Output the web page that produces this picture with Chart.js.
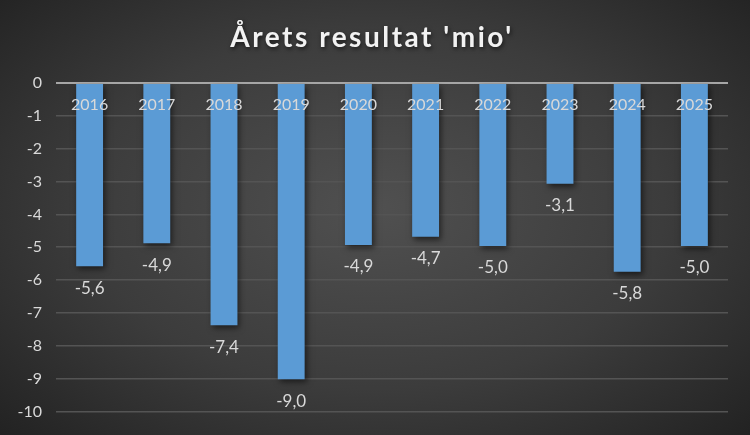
<!DOCTYPE html>
<html>
<head>
<meta charset="utf-8">
<script src="https://cdn.jsdelivr.net/npm/chart.js@4"></script>
<style>
  html, body { margin: 0; padding: 0; background: #262626; }
  #wrap {
    width: 750px; height: 435px; position: relative;
    background: radial-gradient(ellipse 70% 75% at 50% 48%, #505050 0%, #3c3c3c 55%, #222222 100%);
  }
</style>
</head>
<body>
<div id="wrap"><canvas id="myChart" width="750" height="435"></canvas></div>
<script>
// chart data
const years = ['2016', '2017', '2018', '2019', '2020', '2021', '2022', '2023', '2024', '2025'];
const result = [-5.58, -4.88, -7.38, -9.02, -4.93, -4.68, -4.96, -3.07, -5.75, -4.96];
const yTicks = [0, -1, -2, -3, -4, -5, -6, -7, -8, -9, -10];
const titleText = "Årets resultat 'mio'";

const textColor = '#d9d9d9';
const fontFamily = 'Lato, "Open Sans", sans-serif';

function fmt(v) {
    return v.toFixed(1).replace('.', ',');
}

// bar fill: light at the zero line, darker at the end of each bar
function barFill(context) {
    const meta = context.chart.getDatasetMeta(0);
    const bar = meta.data[context.dataIndex];
    if (!bar || bar.base === undefined || isNaN(bar.y)) return '#5b9bd5';
    const g = context.chart.ctx.createLinearGradient(0, bar.base, 0, bar.y);
    g.addColorStop(0, '#74acdf');
    g.addColorStop(1, '#4287c9');
    return g;
}

// shadow under the bars
const barShadow = {
    id: 'barShadow',
    beforeDatasetDraw(chart) {
        const ctx = chart.ctx;
        ctx.save();
        ctx.shadowColor = 'rgba(0,0,0,0.55)';
        ctx.shadowBlur = 6;
        ctx.shadowOffsetX = 2;
        ctx.shadowOffsetY = 3;
    },
    afterDatasetDraw(chart) {
        chart.ctx.restore();
    }
};

// spaced-out title with a soft shadow
const titlePlugin = {
    id: 'titlePlugin',
    afterDraw(chart) {
        const ctx = chart.ctx;
        ctx.save();
        ctx.font = 'bold 28px ' + fontFamily;
        ctx.letterSpacing = '2.5px';
        ctx.fillStyle = '#f2f2f2';
        ctx.textAlign = 'center';
        ctx.textBaseline = 'middle';
        ctx.shadowColor = 'rgba(0,0,0,0.6)';
        ctx.shadowBlur = 4;
        ctx.shadowOffsetX = 1;
        ctx.shadowOffsetY = 2;
        ctx.fillText(titleText, 372, 38);
        ctx.restore();
    }
};

// year labels just below the zero line, value labels below each bar
const labelsPlugin = {
    id: 'labelsPlugin',
    afterDatasetsDraw(chart) {
        const ctx = chart.ctx;
        const x = chart.scales.x;
        const y = chart.scales.y;
        const zero = y.getPixelForValue(0);
        ctx.save();
        ctx.fillStyle = textColor;
        ctx.textAlign = 'center';
        ctx.textBaseline = 'middle';
        ctx.font = '16px ' + fontFamily;
        years.forEach(function(yr, i) {
            ctx.fillText(yr, x.getPixelForValue(i), zero + 22);
        });
        ctx.font = '17px ' + fontFamily;
        const meta = chart.getDatasetMeta(0);
        meta.data.forEach(function(bar, i) {
            ctx.fillText(fmt(result[i]), bar.x, bar.y + 22);
        });
        ctx.restore();
    }
};

const ctx = document.getElementById('myChart');
const myChart = new Chart(ctx, {
    type: 'bar',
    data: {
        labels: years,
        datasets: [{
            label: 'Årets resultat',
            data: result,
            backgroundColor: barFill,
            borderWidth: 0,
            barPercentage: 1,
            categoryPercentage: 0.4
        }]
    },
    options: {
        responsive: false,
        animation: false,
        devicePixelRatio: 1,
        layout: { padding: { left: 0, right: 22, bottom: 14, top: 83 } },
        plugins: {
            legend: { display: false },
            tooltip: { enabled: false },
            title: { display: false }
        },
        scales: {
            x: {
                display: true,
                ticks: { display: false },
                grid: { display: false },
                border: { display: false }
            },
            y: {
                min: -10,
                max: 0,
                afterBuildTicks(scale) {
                    scale.ticks = yTicks.map(v => ({ value: v }));
                },
                afterFit(scale) {
                    scale.width = 56;
                },
                ticks: {
                    color: textColor,
                    padding: 14,
                    font: { family: fontFamily, size: 16 },
                    callback: v => String(v)
                },
                grid: {
                    color: ctx => ctx.tick && ctx.tick.value === 0 ? '#a6a6a6' : '#545454',
                    lineWidth: ctx => ctx.tick && ctx.tick.value === 0 ? 2 : 1.5,
                    drawTicks: false
                },
                border: { display: false }
            }
        }
    },
    plugins: [barShadow, labelsPlugin, titlePlugin]
});
</script>
</body>
</html>
